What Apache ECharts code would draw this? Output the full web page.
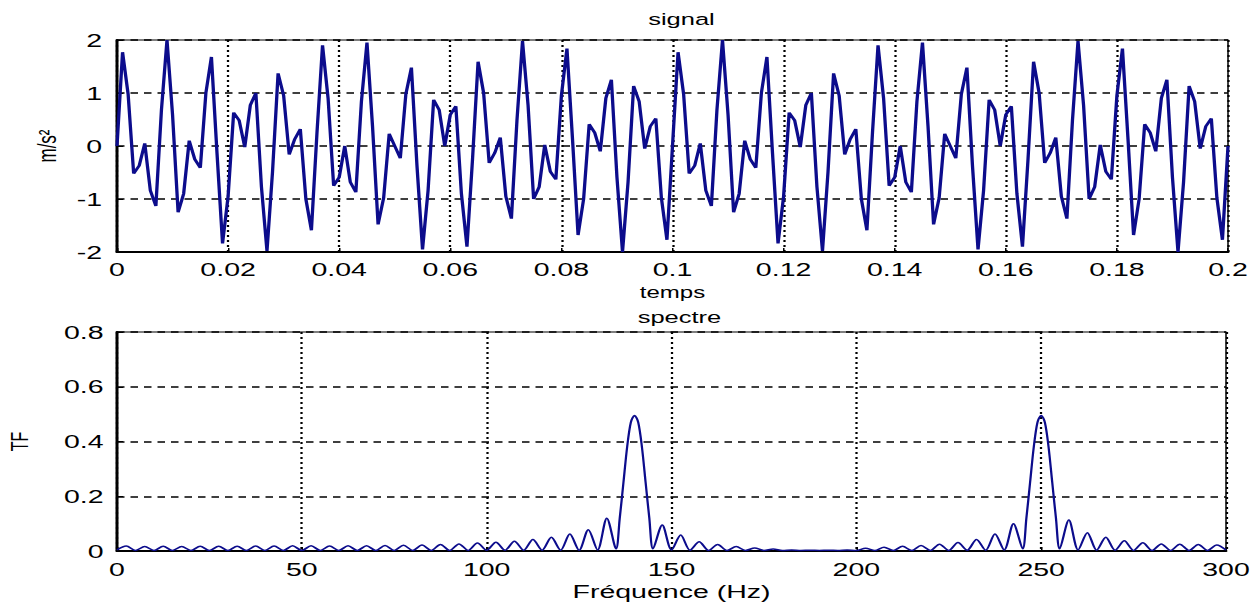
<!DOCTYPE html>
<html><head><meta charset="utf-8">
<script src="https://cdn.jsdelivr.net/npm/echarts@6/dist/echarts.min.js"></script>
<style>
html,body{margin:0;padding:0;background:#fff;overflow:hidden;}
#wrap{width:1257px;height:605px;overflow:hidden;background:#fff;}
#chart{width:838px;height:605px;transform:scaleX(1.5);transform-origin:0 0;}
</style></head><body><div id="wrap"><div id="chart"></div></div>
<script>
// ---- data ----
const sampleStep = 0.001; // s between signal samples
const signalValues = [
 0.00, 1.77, 0.98,-0.52,-0.37, 0.05,-0.84,-1.13, 0.68, 2.00,
 0.59,-1.25,-0.90, 0.10,-0.25,-0.41, 1.00, 1.68,-0.13,-1.84,
-0.95, 0.63, 0.48,-0.02, 0.77, 1.00,-0.77,-1.98,-0.48, 1.37,
 0.95,-0.16, 0.13, 0.32,-1.00,-1.59, 0.25, 1.90, 0.90,-0.75,
-0.59, 0.00,-0.68,-0.87, 0.84, 1.95, 0.37,-1.48,-0.98, 0.23,
 0.00,-0.23, 0.98, 1.48,-0.37,-1.95,-0.84, 0.87, 0.68, 0.00,
 0.59, 0.75,-0.90,-1.90,-0.25, 1.59, 1.00,-0.32,-0.13, 0.16,
-0.95,-1.37, 0.48, 1.98, 0.77,-1.00,-0.77, 0.02,-0.48,-0.63,
 0.95, 1.84, 0.13,-1.68,-1.00, 0.41, 0.25,-0.10, 0.90, 1.25,
-0.59,-2.00,-0.68, 1.13, 0.84,-0.05, 0.37, 0.52,-0.98,-1.77,
 0.00, 1.77, 0.98,-0.52,-0.37, 0.05,-0.84,-1.13, 0.68, 2.00,
 0.59,-1.25,-0.90, 0.10,-0.25,-0.41, 1.00, 1.68,-0.13,-1.84,
-0.95, 0.63, 0.48,-0.02, 0.77, 1.00,-0.77,-1.98,-0.48, 1.37,
 0.95,-0.16, 0.13, 0.32,-1.00,-1.59, 0.25, 1.90, 0.90,-0.75,
-0.59, 0.00,-0.68,-0.87, 0.84, 1.95, 0.37,-1.48,-0.98, 0.23,
 0.00,-0.23, 0.98, 1.48,-0.37,-1.95,-0.84, 0.87, 0.68, 0.00,
 0.59, 0.75,-0.90,-1.90,-0.25, 1.59, 1.00,-0.32,-0.13, 0.16,
-0.95,-1.37, 0.48, 1.98, 0.77,-1.00,-0.77, 0.02,-0.48,-0.63,
 0.95, 1.84, 0.13,-1.68,-1.00, 0.41, 0.25,-0.10, 0.90, 1.25,
-0.59,-2.00,-0.68, 1.13, 0.84,-0.05, 0.37, 0.52,-0.98,-1.77,
 0.00
];
const specFreqs = [
 0,2.5,5,7.5,10,12.5,15,17.5,20,22.5,25,27.5,30,32.5,35,37.5,40,42.5,45,47.5,
 50,52.5,55,57.5,60,62.5,65,67.5,70,72.5,75,77.5,80,82.5,85,87.5,90,92.5,95,97.5,
 100,102.5,105,107.5,110,112.5,115,117.5,120,122.5,125,127.5,130,132.5,
 135,136,137,138,139,140,141,142,143,144,145,
 147.5,150,152.5,155,157.5,160,162.5,165,167.5,170,172.5,175,177.5,180,182.5,185,187.5,190,192.5,195,197.5,
 200,202.5,205,207.5,210,212.5,215,217.5,220,222.5,225,227.5,230,232.5,235,237.5,240,242.5,
 245,246,247,248,249,250,251,252,253,254,255,
 257.5,260,262.5,265,267.5,270,272.5,275,277.5,280,282.5,285,287.5,290,292.5,295,297.5,300
];
const specValues = [
 0.004,0.018,0.002,0.016,0.002,0.017,0.002,0.016,0.002,0.017,0.002,0.017,0.002,0.017,0.002,0.018,0.002,0.018,0.002,0.019,
 0.002,0.019,0.002,0.018,0.002,0.019,0.002,0.019,0.002,0.020,0.002,0.021,0.002,0.022,0.002,0.024,0.002,0.026,0.002,0.029,
 0.003,0.032,0.003,0.036,0.003,0.042,0.003,0.050,0.003,0.062,0.003,0.078,0.004,0.120,
 0.008,0.12,0.25,0.38,0.47,0.495,0.47,0.38,0.25,0.12,0.008,
 0.095,0.004,0.058,0.003,0.034,0.002,0.024,0.002,0.016,0.002,0.011,0.002,0.007,0.002,0.004,0.002,0.003,0.002,0.003,0.002,0.004,
 0.002,0.010,0.002,0.014,0.002,0.017,0.002,0.020,0.002,0.025,0.002,0.031,0.003,0.042,0.003,0.062,0.004,0.100,
 0.008,0.12,0.25,0.38,0.47,0.495,0.47,0.38,0.25,0.12,0.008,
 0.113,0.004,0.067,0.003,0.050,0.003,0.037,0.002,0.030,0.002,0.026,0.002,0.025,0.002,0.024,0.002,0.022,0.004
];

// ---- layout (screen px, chart is stretched horizontally by SX) ----
const SX = 1.5;
const hx = v => v / SX;
const FONT = '"Liberation Sans", Arial, sans-serif';
const INK = '#000';
const LINE = '#0c0c8c';

const vGrid = {show:true, lineStyle:{color:INK, width:1.5, type:[2,3]}};
const hGrid = {show:true, lineStyle:{color:INK, width:1.6, type:[5,4]}};
const axLine = {show:true, onZero:false, lineStyle:{color:INK, width:2}};
const tick = {show:true, inside:true, length:4, lineStyle:{color:INK, width:1}};

const chart = echarts.init(document.getElementById('chart'), null, {renderer:'svg'});
chart.setOption({
  animation:false,
  backgroundColor:'#fff',
  textStyle:{fontFamily:FONT},
  title:[
    {text:'signal', left:hx(674), top:6, textAlign:'center',
     textStyle:{fontFamily:FONT, fontSize:17, fontWeight:'normal', color:INK}},
    {text:'spectre', left:hx(672), top:304, textAlign:'center',
     textStyle:{fontFamily:FONT, fontSize:17, fontWeight:'normal', color:INK}}
  ],
  grid:[
    {left:hx(117), right:hx(29), top:40, height:212, show:true, borderColor:INK, borderWidth:1,
     backgroundColor:'#fff', containLabel:false, outerBoundsMode:'none'},
    {left:hx(117), right:hx(31), top:332, height:219, show:true, borderColor:INK, borderWidth:1,
     backgroundColor:'#fff', containLabel:false, outerBoundsMode:'none'}
  ],
  xAxis:[
    {gridIndex:0, type:'value', min:0, max:0.2, interval:0.02,
     name:'temps', nameLocation:'middle', nameGap:33,
     nameTextStyle:{fontFamily:FONT, fontSize:16, color:INK},
     axisLine:axLine, axisTick:tick, splitLine:vGrid,
     axisLabel:{fontFamily:FONT, fontSize:19, color:INK, margin:8}},
    {gridIndex:1, type:'value', min:0, max:300, interval:50,
     name:'Fréquence (Hz)', nameLocation:'middle', nameGap:31,
     nameTextStyle:{fontFamily:FONT, fontSize:19, color:INK},
     axisLine:axLine, axisTick:tick, splitLine:vGrid,
     axisLabel:{fontFamily:FONT, fontSize:19, color:INK, margin:9}}
  ],
  yAxis:[
    {gridIndex:0, type:'value', min:-2, max:2, interval:1,
     name:'m/s²', nameLocation:'middle', nameGap:38,
     nameTextStyle:{fontFamily:FONT, fontSize:17, color:INK},
     axisLine:axLine, axisTick:tick, splitLine:hGrid,
     axisLabel:{fontFamily:FONT, fontSize:19, color:INK, margin:10}},
    {gridIndex:1, type:'value', min:0, max:0.8, interval:0.2,
     name:'TF', nameLocation:'middle', nameGap:57,
     nameTextStyle:{fontFamily:FONT, fontSize:16, color:INK},
     axisLine:axLine, axisTick:tick, splitLine:hGrid,
     axisLabel:{fontFamily:FONT, fontSize:19, color:INK, margin:9}}
  ],
  series:[
    {type:'line', xAxisIndex:0, yAxisIndex:0, symbol:'none', clip:true,
     lineStyle:{color:LINE, width:2.2},
     data:signalValues.map((v,i)=>[i*sampleStep, v])},
    {type:'line', xAxisIndex:1, yAxisIndex:1, symbol:'none', clip:true, smooth:0.3,
     lineStyle:{color:LINE, width:1.5},
     data:specFreqs.map((f,i)=>[f, specValues[i]])}
  ]
});
</script></body></html>
